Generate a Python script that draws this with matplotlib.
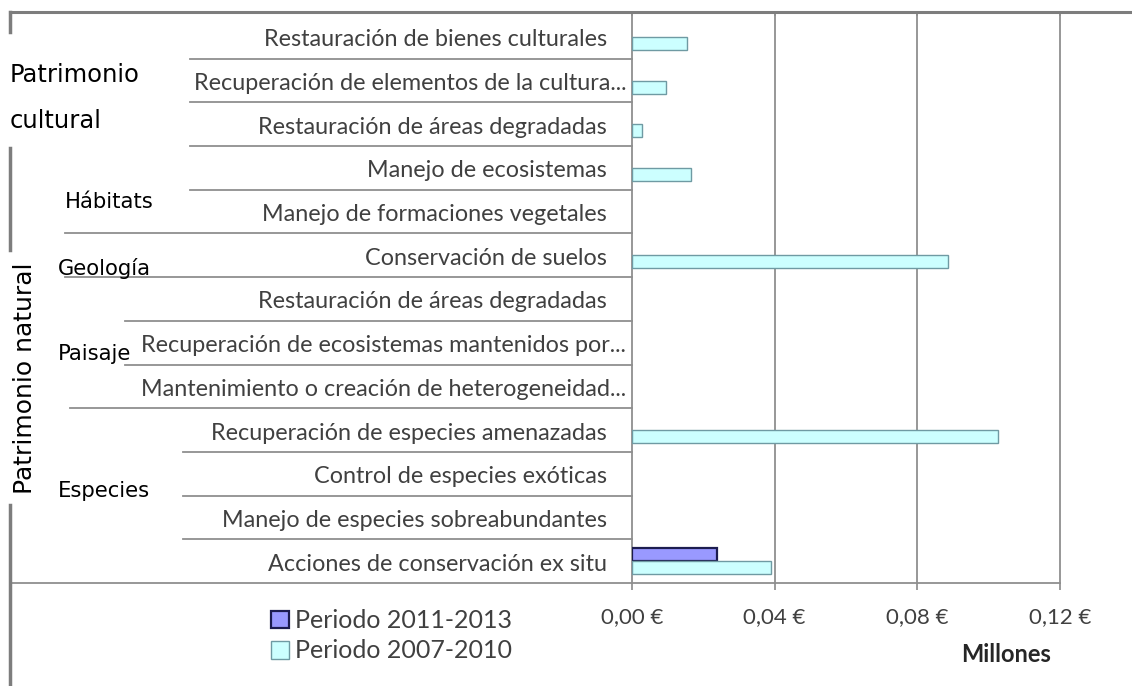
import numpy as np
import matplotlib
matplotlib.use("Agg")
import matplotlib.pyplot as plt
from matplotlib.lines import Line2D
from matplotlib.transforms import blended_transform_factory, offset_copy

# ---------------- data ----------------
categories = [
    "Restauración de bienes culturales",
    "Recuperación de elementos de la cultura...",
    "Restauración de áreas degradadas",
    "Manejo de ecosistemas",
    "Manejo de formaciones vegetales",
    "Conservación de suelos",
    "Restauración de áreas degradadas",
    "Recuperación de ecosistemas mantenidos por...",
    "Mantenimiento o creación de heterogeneidad...",
    "Recuperación de especies amenazadas",
    "Control de especies exóticas",
    "Manejo de especies sobreabundantes",
    "Acciones de conservación ex situ",
]
periodo_2011_2013 = [0, 0, 0, 0, 0, 0, 0, 0, 0, 0, 0, 0, 0.0239]
periodo_2007_2010 = [0.0153, 0.0096, 0.0029, 0.0165, 0, 0.0885, 0, 0, 0, 0.1025, 0, 0, 0.0389]
series_names = ["Periodo 2011-2013", "Periodo 2007-2010"]
x_ticks = [0.0, 0.04, 0.08, 0.12]
x_ticklabels = ["0,00 €", "0,04 €", "0,08 €", "0,12 €"]
axis_unit = "Millones"
group_labels = ["Patrimonio", "cultural", "Hábitats", "Geología", "Paisaje", "Especies"]
main_natural = "Patrimonio natural"

# ---------------- layout helpers ----------------
W, H = 1132, 686
def fx(px): return px / W
def fy(py): return 1 - py / H

fig = plt.figure(figsize=(W / 100, H / 100), dpi=100)
fig.patch.set_facecolor("white")

ax_left, ax_right, ax_top, ax_bot = 632, 1060, 15, 583
ax = fig.add_axes([fx(ax_left), fy(ax_bot), fx(ax_right - ax_left), (ax_bot - ax_top) / H])
ax.set_facecolor("none")

n = len(categories)
y = np.arange(n)
bh = 0.3
c11 = np.array(periodo_2011_2013)
c07 = np.array(periodo_2007_2010)
m11 = c11 > 0
m07 = c07 > 0
b1 = ax.barh(y[m11] - bh / 2, c11[m11], height=bh, color="#9999FF",
             edgecolor="#1c1c50", linewidth=1.6, zorder=3, label=series_names[0])
b2 = ax.barh(y[m07] + bh / 2, c07[m07], height=bh, color="#CCFFFF",
             edgecolor="#6f9aa3", linewidth=1.0, zorder=3, label=series_names[1])

ax.set_xlim(0, 0.12)
ax.set_ylim(n - 0.5, -0.5)
for s in ax.spines.values():
    s.set_visible(False)
ax.set_yticks([])
ax.set_xticks(x_ticks)
ax.set_xticklabels(x_ticklabels, fontfamily="Lato", fontsize=16, color="#404040")
ax.tick_params(axis="x", length=5, width=1.2, color="#8a8a8a", pad=12)

grid_col = "#8f8f8f"
for xv in x_ticks:
    ax.plot([xv, xv], [n - 0.5, -0.5], color=grid_col, lw=1.3, zorder=1,
            clip_on=False)
trans_xd_fy = blended_transform_factory(ax.transData, fig.transFigure)
for xv in x_ticks:
    fig.add_artist(Line2D([xv, xv], [fy(12), fy(ax_top)], transform=trans_xd_fy,
                          color=grid_col, lw=1.3))

# category labels
tr = blended_transform_factory(fig.transFigure, ax.transData)
tr_lab = offset_copy(tr, fig=fig, x=0, y=-3, units="dots")
for i, lab in enumerate(categories):
    xr = 626 if lab.endswith("...") else 607
    ax.text(fx(xr), i, lab, transform=tr_lab, ha="right", va="center",
            fontfamily="Lato", fontsize=16.8, color="#404040", zorder=2)

# separators in the label area (multi-level axis)
sep_starts = [190, 190, 190, 190, 65, 65, 125, 125, 70, 183, 183, 183]
for i, xs in enumerate(sep_starts):
    fig.add_artist(Line2D([fx(xs), fx(ax_left)], [i + 0.5, i + 0.5], transform=tr,
                          color=grid_col, lw=1.3))
fig.add_artist(Line2D([fx(10), fx(ax_right)], [n - 0.5, n - 0.5], transform=tr,
                      color=grid_col, lw=1.3))

# outer frame (partly hidden by label boxes)
frame_col = "#7d7d7d"
fig.add_artist(Line2D([fx(10), 1], [fy(12), fy(12)], color=frame_col, lw=2.2))
for a, b in [(12, 32), (148, 250), (505, 686)]:
    fig.add_artist(Line2D([fx(10), fx(10)], [fy(a), fy(b)], color=frame_col, lw=2.5))

# group labels
gl_font = dict(fontfamily="DejaVu Sans", color="black", ha="left", va="baseline")
fig.text(fx(10), fy(82), group_labels[0], fontsize=17.5, **gl_font)
fig.text(fx(10), fy(128), group_labels[1], fontsize=17.5, **gl_font)
fig.text(fx(65), fy(208), group_labels[2], fontsize=15.2, **gl_font)
fig.text(fx(58), fy(275), group_labels[3], fontsize=15.2, **gl_font)
fig.text(fx(58), fy(360), group_labels[4], fontsize=15.2, **gl_font)
fig.text(fx(58), fy(497), group_labels[5], fontsize=15.2, **gl_font)
fig.text(fx(25), fy(378), main_natural, ha="center", va="center", rotation=90,
         fontsize=18, fontfamily="DejaVu Sans", color="black")

# legend
leg = fig.legend(handles=[b1, b2], labels=series_names, loc="upper left",
                 bbox_to_anchor=(fx(271), fy(609)), frameon=False,
                 prop={"family": "Lato", "size": 18}, handlelength=0.7,
                 handleheight=0.7, handletextpad=0.25, labelspacing=0.3,
                 borderpad=0, borderaxespad=0)
for t in leg.get_texts():
    t.set_color("#404040")

fig.text(fx(1006), fy(655), axis_unit, ha="center", va="center",
         fontfamily="Lato", fontweight="bold", fontsize=17, color="#262626")

fig.savefig("out.png", dpi=100, facecolor="white")
